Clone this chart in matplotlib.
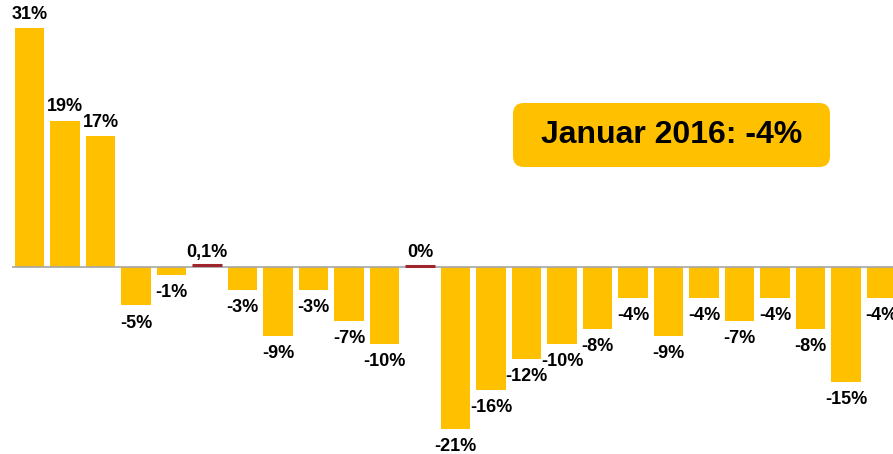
import matplotlib.pyplot as plt
from matplotlib.patches import FancyBboxPatch

# Monthly changes in % (0,1 and 0 shown as thin red marks)
values = [31, 19, 17, -5, -1, 0.1, -3, -9, -3, -7, -10, 0,
          -21, -16, -12, -10, -8, -4, -9, -4, -7, -4, -8, -15, -4]
labels = ['31%', '19%', '17%', '-5%', '-1%', '0,1%', '-3%', '-9%', '-3%', '-7%', '-10%', '0%',
          '-21%', '-16%', '-12%', '-10%', '-8%', '-4%', '-9%', '-4%', '-7%', '-4%', '-8%', '-15%', '-4%']
box_text = 'Januar 2016: -4%'

yellow = '#FFC000'
red = '#A0242C'

plt.rcParams['font.family'] = ['Liberation Sans', 'DejaVu Sans']

fig = plt.figure(figsize=(8.93, 4.54), dpi=100)
ax = fig.add_axes([0, 0, 1, 1])

x = list(range(len(values)))
colors = [red if abs(v) < 0.5 else yellow for v in values]
bars = ax.bar(x, values, width=0.83, color=colors, zorder=2)
# near-zero months: draw a short red line on the zero axis
small = [(xi, v) for xi, v in zip(x, values) if abs(v) < 0.5]
for xi, v in small:
    ax.hlines(v + 0.12, xi - 0.415, xi + 0.415, color=red, lw=2.2, zorder=4)

# zero line
ax.hlines(0, -0.493, len(values), color='#A6A6A6', lw=1.2, zorder=3)

for xi, v, lab in zip(x, values, labels):
    if v >= 0:
        ax.annotate(lab, (xi, v), xytext=(0, 4), textcoords='offset points',
                    ha='center', va='bottom', fontsize=13, fontweight='bold')
    else:
        ax.annotate(lab, (xi, v), xytext=(0, -6.5), textcoords='offset points',
                    ha='center', va='top', fontsize=13, fontweight='bold')

ax.set_xlim(-0.831, 24.324)
ax.set_ylim(-24.3, 34.7)
ax.axis('off')

# highlight box
W, H = 893, 454
box = FancyBboxPatch((513 / W, 1 - 167 / H), 317 / W, 64 / H,
                     boxstyle='round,pad=0,rounding_size=0.012',
                     transform=fig.transFigure, facecolor=yellow, edgecolor='none',
                     mutation_aspect=W / H)
fig.patches.append(box)
fig.text(671.5 / W, 1 - 135 / H, box_text, ha='center', va='center',
         fontsize=23, fontweight='bold')

plt.savefig('out.png', dpi=100)
